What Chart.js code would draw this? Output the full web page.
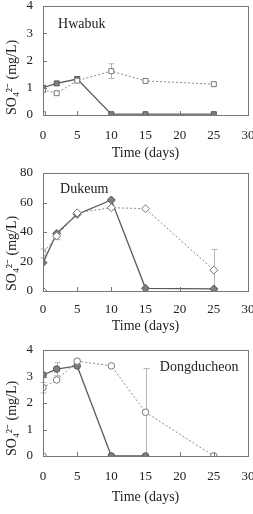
<!DOCTYPE html>
<html><head><meta charset="utf-8">
<script src="https://cdn.jsdelivr.net/npm/chart.js@4.4.1/dist/chart.umd.min.js"></script>
<style>
body{margin:0;background:#fff;width:253px;height:514px;overflow:hidden;position:relative}
.p{position:absolute;left:0;width:253px}
</style></head><body>
<div class="p" style="top:0;height:165px"><canvas id="c1"></canvas></div>
<div class="p" style="top:165px;height:170px"><canvas id="c2"></canvas></div>
<div class="p" style="top:335px;height:179px"><canvas id="c3"></canvas></div>
<script>
// Hwabuk
var hwFilledX = [0, 2, 5, 10, 15, 25];
var hwFilledY = [1.0, 1.16, 1.32, 0.03, 0.03, 0.03];
var hwFilledErr = [0, 0, 0, 0, 0, 0];
var hwOpenX = [0, 0, 2, 5, 10, 15, 25];
var hwOpenY = [0.03, 0.92, 0.8, 1.26, 1.61, 1.25, 1.13];
var hwOpenErr = [0, 0, 0, 0, 0.27, 0, 0];
// Dukeum
var dkFilledX = [0, 2, 5, 10, 15, 25];
var dkFilledY = [19.2, 39, 52, 61.7, 1.8, 1.4];
var dkFilledErr = [0, 0, 0, 0, 0, 0];
var dkOpenX = [0, 0, 2, 5, 10, 15, 25];
var dkOpenY = [0, 25.5, 37.3, 53, 56.5, 55.8, 14.2];
var dkOpenErr = [0, 3, 2.5, 0, 0, 0, 14];
// Dongducheon
var ddFilledX = [0, 2, 5, 10, 15];
var ddFilledY = [3.06, 3.28, 3.4, 0, 0];
var ddFilledErr = [0, 0.25, 0, 0, 0];
var ddOpenX = [0, 0, 2, 5, 10, 15, 25];
var ddOpenY = [0, 2.58, 2.87, 3.58, 3.4, 1.65, 0];
var ddOpenErr = [0, 0.2, 0, 0, 0, 1.65, 0];

var xTicks = [0, 5, 10, 15, 20, 25, 30];
var serif = "'Liberation Serif', 'Times New Roman', serif";

function pts(xs, ys, es) {
    return xs.map(function(x, i){ return {x: x, y: ys[i], e: es[i]}; });
}

// tick labels should not push the plot box around
function noLabelPad(s) {
    s.paddingTop = 0; s.paddingBottom = 0; s.paddingLeft = 0; s.paddingRight = 0;
}

var boxPlugin = {
    id: 'box',
    beforeDatasetsDraw: function(chart) {
        var ctx = chart.ctx;
        var xs = chart.scales.x, ys = chart.scales.y;
        ctx.save();
        // error bars
        ctx.strokeStyle = '#b5b5b5';
        ctx.lineWidth = 1;
        chart.data.datasets.forEach(function(ds){
            ds.data.forEach(function(p){
                if (!p.e) return;
                var px = Math.round(xs.getPixelForValue(p.x)) + 0.5;
                var y1 = ys.getPixelForValue(p.y + p.e);
                var y2 = ys.getPixelForValue(Math.max(p.y - p.e, 0));
                ctx.beginPath();
                ctx.moveTo(px, y1); ctx.lineTo(px, y2);
                ctx.moveTo(px - 3, y1); ctx.lineTo(px + 3, y1);
                ctx.moveTo(px - 3, y2); ctx.lineTo(px + 3, y2);
                ctx.stroke();
            });
        });
        ctx.restore();
    },
    afterDraw: function(chart) {
        var ctx = chart.ctx, a = chart.chartArea;
        var xs = chart.scales.x, ys = chart.scales.y;
        ctx.save();
        ctx.strokeStyle = '#777';
        ctx.lineWidth = 1;
        ctx.strokeRect(Math.round(a.left) + 0.5, Math.round(a.top) + 0.5,
            Math.round(a.right - a.left), Math.round(a.bottom - a.top));
        ctx.beginPath();
        xs.ticks.forEach(function(t){
            var px = Math.round(xs.getPixelForValue(t.value)) + 0.5;
            ctx.moveTo(px, a.bottom); ctx.lineTo(px, a.bottom - 4);
        });
        ys.ticks.forEach(function(t){
            var py = Math.round(ys.getPixelForValue(t.value)) + 0.5;
            ctx.moveTo(a.left, py); ctx.lineTo(a.left + 4, py);
        });
        ctx.stroke();
        var lb = chart.options.plugins.siteLabel;
        ctx.fillStyle = '#222';
        ctx.font = '14px ' + serif;
        ctx.textBaseline = 'middle';
        ctx.fillText(lb.text, xs.getPixelForValue(lb.x), ys.getPixelForValue(lb.y));
        ctx.restore();
    }
};

function makeChart(id, cfg) {
    var ctx = document.getElementById(id).getContext('2d');
    return new Chart(ctx, {
        type: 'scatter',
        data: {
            datasets: [{
                data: pts(cfg.openX, cfg.openY, cfg.openErr),
                showLine: true,
                borderColor: '#8a8a8a',
                borderWidth: 1,
                borderDash: [2, 2],
                backgroundColor: '#fff',
                pointBackgroundColor: '#fff',
                pointBorderColor: '#777',
                pointBorderWidth: 1,
                pointStyle: cfg.style,
                pointRadius: cfg.radius
            }, {
                data: pts(cfg.filledX, cfg.filledY, cfg.filledErr),
                showLine: true,
                borderColor: '#5a5a5a',
                borderWidth: 1.3,
                pointBackgroundColor: '#808080',
                pointBorderColor: '#555',
                pointBorderWidth: 1,
                pointStyle: cfg.style,
                pointRadius: cfg.radius
            }]
        },
        options: {
            responsive: true,
            maintainAspectRatio: false,
            animation: false,
            layout: { padding: { top: cfg.padTop, right: 5, left: 0, bottom: 0 } },
            plugins: {
                legend: { display: false },
                tooltip: { enabled: false },
                siteLabel: cfg.label
            },
            scales: {
                x: {
                    type: 'linear', min: 0, max: 30,
                    afterBuildTicks: function(s){ s.ticks = xTicks.map(function(v){ return {value: v}; }); },
                    afterFit: function(s){ s.height = cfg.xHeight; noLabelPad(s); },
                    grid: { display: false, drawTicks: false },
                    border: { display: false },
                    ticks: { padding: cfg.xPad, color: '#222', font: { family: serif, size: 13 } },
                    title: { display: true, text: 'Time (days)', color: '#222',
                        padding: { top: 0, bottom: cfg.titlePad }, font: { family: serif, size: 14 } }
                },
                y: {
                    min: 0, max: cfg.yMax,
                    afterBuildTicks: function(s){ s.ticks = cfg.yTicks.map(function(v){ return {value: v}; }); },
                    afterFit: function(s){ s.width = 43; noLabelPad(s); },
                    grid: { display: false, drawTicks: false },
                    border: { display: false },
                    ticks: { padding: 10, color: '#222', font: { family: serif, size: 13 } },
                    title: { display: true, text: 'SO₄²⁻ (mg/L)', color: '#222', align: 'start',
                        padding: { top: 4, bottom: 0 }, font: { family: serif, size: 14 } }
                }
            }
        },
        plugins: [boxPlugin]
    });
}

makeChart('c1', {
    openX: hwOpenX, openY: hwOpenY, openErr: hwOpenErr,
    filledX: hwFilledX, filledY: hwFilledY, filledErr: hwFilledErr,
    style: 'rect', radius: 3.5, yMax: 4, yTicks: [0, 1, 2, 3, 4],
    padTop: 6, xHeight: 50, xPad: 13, titlePad: 3,
    label: { text: 'Hwabuk', x: 2.2, y: 3.34 }
});
makeChart('c2', {
    openX: dkOpenX, openY: dkOpenY, openErr: dkOpenErr,
    filledX: dkFilledX, filledY: dkFilledY, filledErr: dkFilledErr,
    style: 'rectRot', radius: 4, yMax: 80, yTicks: [0, 20, 40, 60, 80],
    padTop: 8, xHeight: 44, xPad: 11, titlePad: 0,
    label: { text: 'Dukeum', x: 2.5, y: 69 }
});
makeChart('c3', {
    openX: ddOpenX, openY: ddOpenY, openErr: ddOpenErr,
    filledX: ddFilledX, filledY: ddFilledY, filledErr: ddFilledErr,
    style: 'circle', radius: 3.3, yMax: 4, yTicks: [0, 1, 2, 3, 4],
    padTop: 15, xHeight: 58, xPad: 13, titlePad: 8,
    label: { text: 'Dongducheon', x: 17.1, y: 3.36 }
});
</script>
</body></html>
